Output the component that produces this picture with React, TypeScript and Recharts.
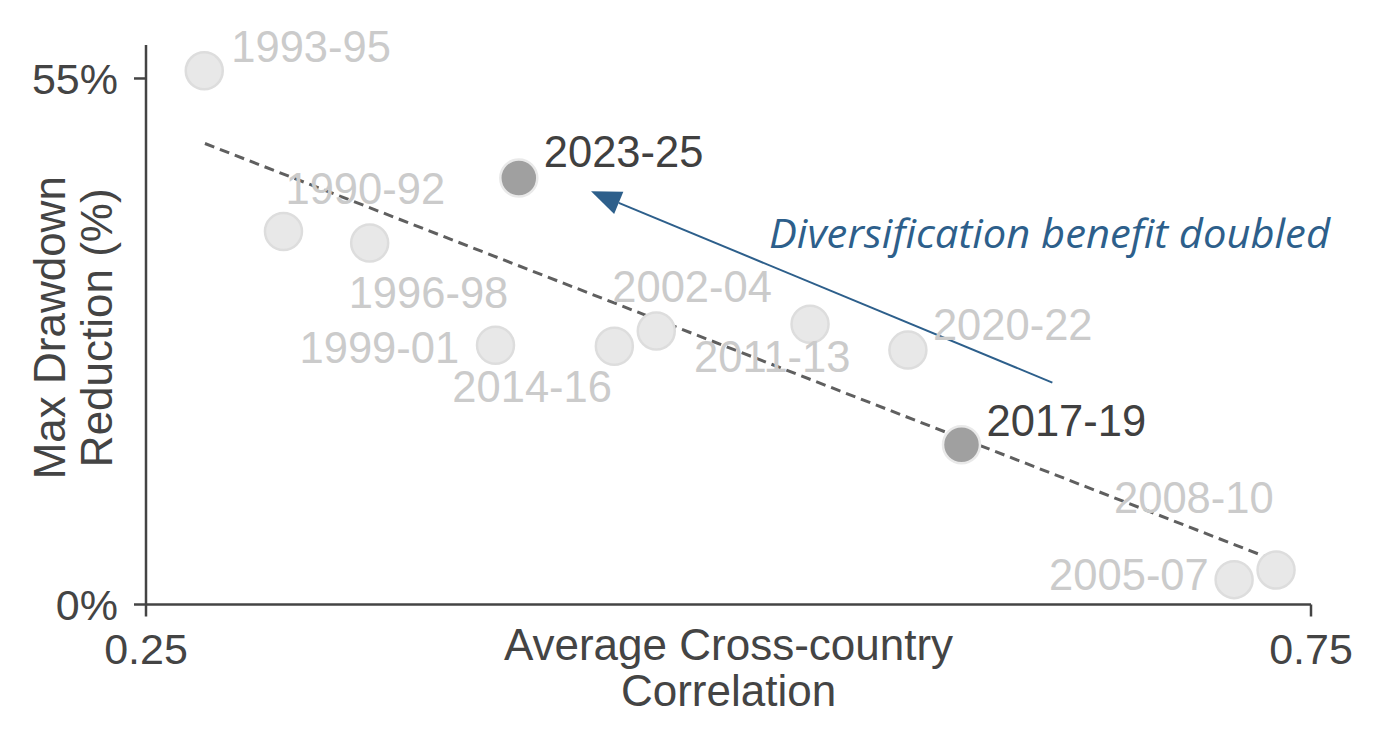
import React from 'react';
import { ScatterChart, Scatter, XAxis, YAxis, ReferenceLine, Label } from 'recharts';

// rolling 3-year windows, x = avg cross-country correlation, y = max drawdown reduction (%)
const periods = ['1993-95', '1990-92', '1996-98', '1999-01', '2023-25', '2014-16', '2002-04', '2011-13', '2020-22', '2017-19', '2005-07', '2008-10'];
const correlation = [0.275, 0.309, 0.346, 0.400, 0.410, 0.451, 0.469, 0.535, 0.577, 0.600, 0.717, 0.735];
const drawdownReduction = [55.8, 39.0, 37.8, 27.1, 44.6, 27.0, 28.6, 29.3, 26.6, 16.7, 2.6, 3.6];
const highlighted = ['2023-25', '2017-19'];

// fitted trend
const trendX = [0.2753, 0.7336];
const trendY = [48.2, 4.7];

// annotation arrow (tail -> head)
const arrowX = [0.639, 0.441];
const arrowY = [23.2, 43.2];

const xTicks = [0.25, 0.75];
const yTicks = [0, 55];

const xTitle = ['Average Cross-country', 'Correlation'];
const yTitle = ['Max Drawdown', 'Reduction (%)'];
const note = 'Diversification benefit doubled';

// where each label sits relative to its point (text left edge, baseline)
const labelOffset: Record<string, [number, number]> = {
    '1993-95': [27, -9],
    '1990-92': [2, -28],
    '1996-98': [-21, 65],
    '1999-01': [-196, 18],
    '2023-25': [25, -11],
    '2014-16': [-162, 56],
    '2002-04': [-44, -29],
    '2011-13': [-116, 48],
    '2020-22': [25, -10],
    '2017-19': [25, -9],
    '2005-07': [-185, 10],
    '2008-10': [-162, -57],
};

const FONT = '"Liberation Sans", Arial, sans-serif';
const AXIS = '#444444';

const points = periods.map((p, i) => ({ period: p, x: correlation[i], y: drawdownReduction[i] }));

const renderPoint = (props: any) => {
    const { cx, cy, payload } = props;
    const hot = highlighted.includes(payload.period);
    const [dx, dy] = labelOffset[payload.period] || [20, -10];
    return (
        <g>
            <circle cx={cx} cy={cy} r={18.5} fill={hot ? '#a0a0a0' : '#e8e8e8'} stroke={hot ? '#e9e9e9' : '#dddddd'} strokeWidth={2.5} />
            <text x={cx + dx} y={cy + dy} fill={hot ? '#404040' : '#cbcbcb'} fontSize={43.5} fontFamily={FONT}>
                {payload.period}
            </text>
        </g>
    );
};

const renderArrow = (props: any) => {
    const { x1, y1, x2, y2 } = props;
    const len = Math.hypot(x2 - x1, y2 - y1);
    const ux = (x2 - x1) / len;
    const uy = (y2 - y1) / len;
    const head = 30;
    const half = 12;
    const bx = x2 - ux * head;
    const by = y2 - uy * head;
    return (
        <g>
            <line x1={x1} y1={y1} x2={bx} y2={by} stroke="#2d5f8b" strokeWidth={2} />
            <polygon
                points={`${x2},${y2} ${bx - uy * half},${by + ux * half} ${bx + uy * half},${by - ux * half}`}
                fill="#2d5f8b"
            />
            <text
                x={769}
                y={248}
                fill="#2d5f8b"
                fontSize={40}
                fontStyle="italic"
                fontFamily='"Open Sans", "Noto Sans", sans-serif'
                textLength={561}
                lengthAdjust="spacingAndGlyphs"
            >
                {note}
            </text>
        </g>
    );
};

const XTitle = (props: any) => {
    const { x, y, width } = props.viewBox;
    return (
        <text x={x + width / 2} y={y} fill={AXIS} fontSize={44} fontFamily={FONT} textAnchor="middle">
            <tspan x={x + width / 2} dy={55.5}>{xTitle[0]}</tspan>
            <tspan x={x + width / 2} dy={46}>{xTitle[1]}</tspan>
        </text>
    );
};

const YTitle = (props: any) => {
    const { x, y, height } = props.viewBox;
    const cy = y + height / 2 + 3;
    return (
        <g fill={AXIS} fontSize={44} fontFamily={FONT}>
            <text x={x + 19} y={cy} textAnchor="middle" transform={`rotate(-90, ${x + 19}, ${cy})`}>{yTitle[0]}</text>
            <text x={x + 66} y={cy} textAnchor="middle" transform={`rotate(-90, ${x + 66}, ${cy})`}>{yTitle[1]}</text>
        </g>
    );
};

export default function App() {
    return (
        <div style={{ position: 'absolute', left: 0, top: 0, background: '#fff' }}>
            <ScatterChart width={1386} height={747} margin={{ top: 45, right: 75, bottom: 82.5, left: 46 }}>
                <XAxis
                    type="number"
                    dataKey="x"
                    domain={[0.25, 0.75]}
                    ticks={xTicks}
                    height={60}
                    tickSize={12}
                    tickMargin={17}
                    axisLine={{ stroke: AXIS, strokeWidth: 2.5 }}
                    tickLine={{ stroke: AXIS, strokeWidth: 2.5 }}
                    tick={{ fill: AXIS, fontSize: 43, fontFamily: FONT }}
                >
                    <Label content={<XTitle />} />
                </XAxis>
                <YAxis
                    type="number"
                    dataKey="y"
                    domain={[0, 58.5]}
                    ticks={yTicks}
                    width={100}
                    tickSize={12}
                    tickMargin={16}
                    tickFormatter={(v: number) => `${v}%`}
                    axisLine={{ stroke: AXIS, strokeWidth: 2.5 }}
                    tickLine={{ stroke: AXIS, strokeWidth: 2.5 }}
                    tick={{ fill: AXIS, fontSize: 43, fontFamily: FONT }}
                >
                    <Label content={<YTitle />} />
                </YAxis>
                <Scatter data={points} shape={renderPoint} isAnimationActive={false} />
                <ReferenceLine
                    segment={[{ x: trendX[0], y: trendY[0] }, { x: trendX[1], y: trendY[1] }]}
                    stroke="#5f5f5f"
                    strokeWidth={3}
                    strokeDasharray="10 6"
                    ifOverflow="visible"
                />
                <ReferenceLine
                    segment={[{ x: arrowX[0], y: arrowY[0] }, { x: arrowX[1], y: arrowY[1] }]}
                    shape={renderArrow}
                    ifOverflow="visible"
                />
            </ScatterChart>
        </div>
    );
}
